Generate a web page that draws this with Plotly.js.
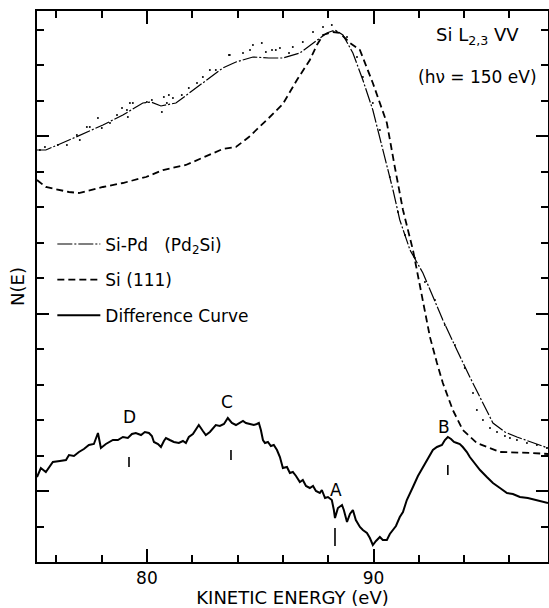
<!DOCTYPE html>
<html>
<head>
<meta charset="utf-8">
<script src="https://cdn.plot.ly/plotly-3.0.1.min.js"></script>
<style>
html,body{margin:0;padding:0;background:#fff;}
#chart{width:549px;height:608px;}
</style>
</head>
<body>
<div id="chart"></div>
<script>
// Kinetic energy (eV) and N(E) in arbitrary units
const siPdE = [75.15,75.54,76.87,78.06,78.94,79.82,80.18,80.62,81.28,82.03,82.74,83.35,83.93,84.68,85.38,86.00,86.75,87.33,87.94,88.30,88.65,89.09,89.53,89.97,90.59,90.86,91.16,91.61,92.18,93.06,93.68,94.25,95.27,95.80,96.33,97.70];
const siPdN = [412,412,425,437,447,459,460,456,459,472,484,494,500,505,504,504,509,519,529,532,527,509,482,452,397,372,342,312,289,242,212,185,139,130,125,114];

const siE = [75.15,75.54,76.56,77.00,78.06,78.94,79.96,80.71,81.72,82.74,83.35,83.93,84.50,85.38,86.00,86.62,87.19,87.50,87.77,88.21,88.52,88.96,89.40,89.97,90.59,90.94,91.30,91.74,92.18,92.49,92.80,93.06,93.50,93.94,94.56,95.58,97.03,97.70];
const siN = [382,375,370,369,375,379,385,392,397,407,413,415,425,444,458,482,502,517,527,530,529,519,512,479,439,395,352,312,259,225,199,179,152,132,119,110,109,108];

const diffE = [75.15,75.32,75.54,75.85,76.16,76.43,76.56,76.78,77.00,77.22,77.44,77.66,77.84,77.97,78.19,78.50,78.72,78.94,79.16,79.34,79.51,79.74,79.91,80.09,80.22,80.31,80.49,80.62,80.75,80.84,81.01,81.19,81.41,81.59,81.72,81.85,82.03,82.16,82.29,82.47,82.60,82.78,82.91,83.04,83.22,83.40,83.57,83.75,83.93,84.10,84.24,84.37,84.55,84.72,84.85,84.94,85.03,85.12,85.21,85.34,85.47,85.60,85.74,85.87,86.00,86.18,86.31,86.44,86.58,86.75,86.88,87.02,87.19,87.33,87.46,87.63,87.72,87.86,87.99,88.16,88.25,88.30,88.43,88.61,88.69,88.83,88.96,89.09,89.22,89.40,89.53,89.71,89.84,89.97,90.11,90.28,90.41,90.59,90.72,90.86,90.99,91.16,91.30,91.47,91.61,91.74,91.96,92.18,92.40,92.62,92.80,92.93,93.02,93.15,93.28,93.42,93.55,93.68,93.81,93.94,94.12,94.25,94.47,94.70,95.00,95.27,95.58,95.89,96.15,96.46,96.81,97.21,97.48,97.70];
const diffN = [85,94,90,100,101,102,107,106,110,113,117,118,129,114,118,122,122,125,124,128,129,127,130,129,126,120,118,115,121,124,122,120,119,121,119,125,128,132,137,131,127,130,134,137,136,138,144,139,137,139,141,139,138,137,138,139,132,122,119,120,116,117,112,105,94,95,89,90,86,80,82,76,74,76,71,69,72,64,65,62,52,44,54,57,52,40,48,52,42,35,32,29,24,17,21,25,22,22,28,32,36,45,50,62,68,75,86,95,104,112,115,116,117,122,125,123,120,119,118,115,110,105,99,92,85,79,74,69,68,65,64,62,60,59];

// scattered data points around the Si-Pd curve
const dotE = [75.28,75.50,76.07,76.47,76.91,77.04,77.35,77.48,77.84,78.01,78.37,78.68,78.90,79.12,79.16,79.25,79.38,80.00,80.22,80.66,80.75,80.88,80.97,81.15,81.54,81.85,82.21,82.47,82.78,83.04,83.62,83.66,84.24,84.55,84.68,85.07,85.25,85.52,85.69,85.87,86.27,86.44,86.88,87.33,87.77,88.16,88.38,88.83,89.27,89.53,89.97,90.28,90.72,91.08,91.39,91.83,92.27,92.71,93.15,93.59,94.03,94.39,94.56,94.83,95.14,95.45,95.80,96.02,96.33,96.77,97.21,97.65];
const dotN = [412,415,417,417,427,422,435,435,444,434,439,447,454,452,445,459,459,460,462,450,465,459,467,464,467,474,479,485,492,492,507,507,509,512,517,519,510,512,512,514,509,515,520,530,535,537,530,525,505,485,459,432,385,350,327,304,280,262,237,217,194,169,152,142,134,130,126,124,122,119,117,114];

// peak labels on the difference curve
const peakLabels = ['D','C','A','B'];
const peakLabelE = [79.25,83.53,88.34,93.11];
const peakLabelN = [145,160,72,135];
const peakMarkE = [79.21,83.71,88.30,93.28];
const peakMarkN0 = [95,102,16,87];
const peakMarkN1 = [105,112,34,97];

const seriesNames = ['Si-Pd\u00a0\u00a0\u00a0(Pd<sub>2</sub>Si)','Si (111)','Difference Curve'];

const traces = [
  {x: siPdE, y: siPdN, mode:'lines', name: seriesNames[0], legendgroup:'a',
   line:{color:'black', width:1.2, dash:'15px,2px,2px,2px'}},
  {x: siE, y: siN, mode:'lines', name: seriesNames[1], legendgroup:'b',
   line:{color:'black', width:1.8, dash:'7px,4px'}},
  {x: diffE, y: diffN, mode:'lines', name: seriesNames[2], legendgroup:'c',
   line:{color:'black', width:2}},
  {x: dotE, y: dotN, mode:'markers', showlegend:false, hoverinfo:'skip',
   marker:{color:'black', size:2}}
];

const annotations = [
  {xref:'paper', yref:'paper', x:0.863, y:0.98, xanchor:'center', yanchor:'top', showarrow:false,
   text:'Si L<sub>2,3</sub> VV', font:{size:18}},
  {xref:'paper', yref:'paper', x:0.862, y:0.880, xanchor:'center', yanchor:'middle', showarrow:false,
   text:'(h\u03bd = 150 eV)', font:{size:17}}
];
const shapes = [];
for (let i = 0; i < peakLabels.length; i++) {
  annotations.push({xref:'x', yref:'y', x: peakLabelE[i], y: peakLabelN[i], text: peakLabels[i],
    showarrow:false, xanchor:'center', yanchor:'middle', font:{size:17}});
  shapes.push({type:'line', xref:'x', yref:'y', x0: peakMarkE[i], x1: peakMarkE[i],
    y0: peakMarkN0[i], y1: peakMarkN1[i], line:{color:'black', width:1.6}});
}

const layout = {
  width:549, height:608,
  margin:{l:37, r:1, t:11, b:46, pad:0},
  paper_bgcolor:'white', plot_bgcolor:'white',
  font:{family:'DejaVu Sans, sans-serif', color:'black', size:17},
  showlegend:true,
  legend:{x:0.03, y:0.609, xanchor:'left', yanchor:'top', bgcolor:'rgba(0,0,0,0)', borderwidth:0,
    font:{size:17}, tracegroupgap:10.5, traceorder:'grouped', itemwidth:43},
  xaxis:{range:[75.15,97.70], showgrid:false, zeroline:false, showline:true, linewidth:2, linecolor:'black',
    mirror:'ticks', ticks:'inside', tick0:0, dtick:10, ticklen:13, tickwidth:2, tickcolor:'black',
    minor:{tick0:0, dtick:2, ticklen:7, tickwidth:2, ticks:'inside', tickcolor:'black', showgrid:false},
    tickfont:{size:17}, title:{text:'KINETIC ENERGY (eV)', font:{size:18}, standoff:6}},
  yaxis:{range:[0,551], showgrid:false, zeroline:false, showline:true, linewidth:2, linecolor:'black',
    mirror:'ticks', ticks:'inside', tick0:71, dtick:177.5, ticklen:12, tickwidth:2, tickcolor:'black',
    minor:{tick0:0, dtick:35.5, ticklen:7, tickwidth:2, ticks:'inside', tickcolor:'black', showgrid:false},
    showticklabels:false, title:{text:'N(E)', font:{size:18}, standoff:6}},
  annotations: annotations,
  shapes: shapes
};

Plotly.newPlot('chart', traces, layout, {displayModeBar:false, staticPlot:true});
</script>
</body>
</html>
